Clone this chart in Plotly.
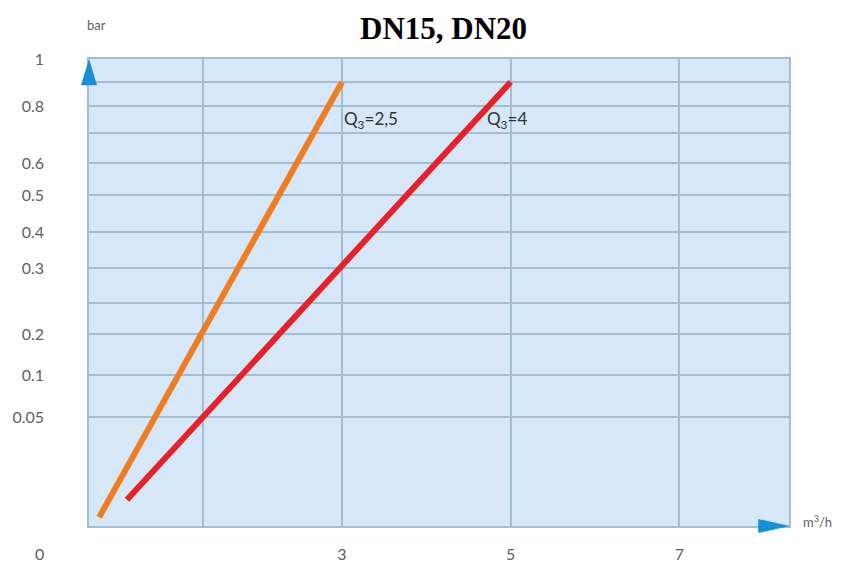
import numpy as np
import plotly.graph_objects as go

# ---- data ----
# flow, m3/h
x_orange = [0.12, 3.0]
x_red = [0.45, 5.0]
# pressure loss, bar
y_orange = [0.004, 0.9]
y_red = [0.012, 0.9]

series_names = ["Q<sub>3</sub>=2,5", "Q<sub>3</sub>=4"]

# x axis ticks
x_tick_vals = [3, 5, 7]
x_tick_text = ["3", "5", "7"]
x_extra_grid = [1.35]

# y axis: non-uniform printed scale (bar value -> scale position)
y_scale_bar = [0, 0.05, 0.1, 0.2, 0.25, 0.3, 0.4, 0.5, 0.6, 0.7, 0.8, 0.9, 1.0]
y_scale_pos = [0, 109, 151, 192, 223, 258, 294, 331, 363, 393, 420, 444, 467]
y_tick_bar = [0.05, 0.1, 0.2, 0.3, 0.4, 0.5, 0.6, 0.8, 1.0]
y_tick_text = ["0.05", "0.1", "0.2", "0.3", "0.4", "0.5", "0.6", "0.8", "1"]
y_extra_grid = [0.25, 0.7, 0.9]


def ypos(v):
    return np.interp(v, y_scale_bar, y_scale_pos)


ORANGE = "#ef7d22"
RED = "#e62129"
BLUE = "#1790d8"
GRID = "#a3bdd2"
LABEL = "#606060"
FONT = "Lato"

fig = go.Figure()
fig.add_trace(go.Scatter(x=x_orange, y=ypos(y_orange), mode="lines",
                         line=dict(color=ORANGE, width=6), name=series_names[0],
                         showlegend=False))
fig.add_trace(go.Scatter(x=x_red, y=ypos(y_red), mode="lines",
                         line=dict(color=RED, width=6), name=series_names[1],
                         showlegend=False))

fig.update_xaxes(range=[0, 8.3], tickvals=x_tick_vals, ticktext=x_tick_text,
                 automargin=False,
                 showgrid=True, gridcolor=GRID, gridwidth=1.5,
                 minor=dict(tickmode="array", tickvals=x_extra_grid, showgrid=True,
                            gridcolor=GRID, gridwidth=1.5, ticks=""),
                 zeroline=False, showline=True, linecolor=GRID, linewidth=1.5,
                 mirror=True, ticks="outside", ticklen=13, tickcolor="rgba(0,0,0,0)",
                 tickfont=dict(family=FONT, size=16, color=LABEL))
fig.update_yaxes(range=[0, 467], tickvals=ypos(y_tick_bar), ticktext=y_tick_text,
                 automargin=False,
                 showgrid=True, gridcolor=GRID, gridwidth=1.5,
                 minor=dict(tickmode="array", tickvals=ypos(y_extra_grid), showgrid=True,
                            gridcolor=GRID, gridwidth=1.5, ticks=""),
                 zeroline=False, showline=True, linecolor=GRID, linewidth=1.5,
                 mirror=True, ticks="outside", ticklen=40, tickcolor="rgba(0,0,0,0)",
                 tickfont=dict(family=FONT, size=16, color=LABEL))

# axis arrows
shapes = [
    dict(type="path", xref="paper", yref="paper",
         path="M -0.0115 0.944 L 0 1.0 L 0.0115 0.944 Z",
         fillcolor=BLUE, line=dict(width=0)),
    dict(type="path", xref="paper", yref="paper",
         path="M 0.956 0.015 L 1.0015 0.0 L 0.956 -0.015 Z",
         fillcolor=BLUE, line=dict(width=0)),
]

annotations = [
    dict(text="<b>DN15, DN20</b>", xref="paper", yref="paper", x=0.507, y=1.108,
         showarrow=False, xanchor="center", yanchor="top",
         font=dict(family="Liberation Serif", size=31, color="black")),
    dict(text="bar", xref="paper", yref="paper", x=0.0107, y=1.073,
         showarrow=False, xanchor="center", yanchor="middle",
         font=dict(family=FONT, size=13, color=LABEL)),
    dict(text="m<sup>3</sup>/h", xref="paper", yref="paper", x=1.017, y=0.0086,
         showarrow=False, xanchor="left", yanchor="middle",
         font=dict(family=FONT, size=13, color=LABEL)),
    dict(text="0", xref="paper", yref="paper", x=-0.07, y=-0.058,
         showarrow=False, xanchor="center", yanchor="middle",
         font=dict(family=FONT, size=16, color=LABEL)),
    dict(text=series_names[0], xref="paper", yref="paper", x=0.362, y=0.869,
         showarrow=False, xanchor="left", yanchor="middle",
         font=dict(family=FONT, size=17, color="#333333")),
    dict(text=series_names[1], xref="paper", yref="paper", x=0.566, y=0.869,
         showarrow=False, xanchor="left", yanchor="middle",
         font=dict(family=FONT, size=17, color="#333333")),
]

# the page has an 8px body margin, so the figure starts at (8, 8) in the window
fig.update_layout(width=837, height=561,
                  margin=dict(l=81, r=56, t=51, b=43),
                  paper_bgcolor="white", plot_bgcolor="#d6e8f7",
                  shapes=shapes, annotations=annotations, showlegend=False)

fig.write_html("out.html")
